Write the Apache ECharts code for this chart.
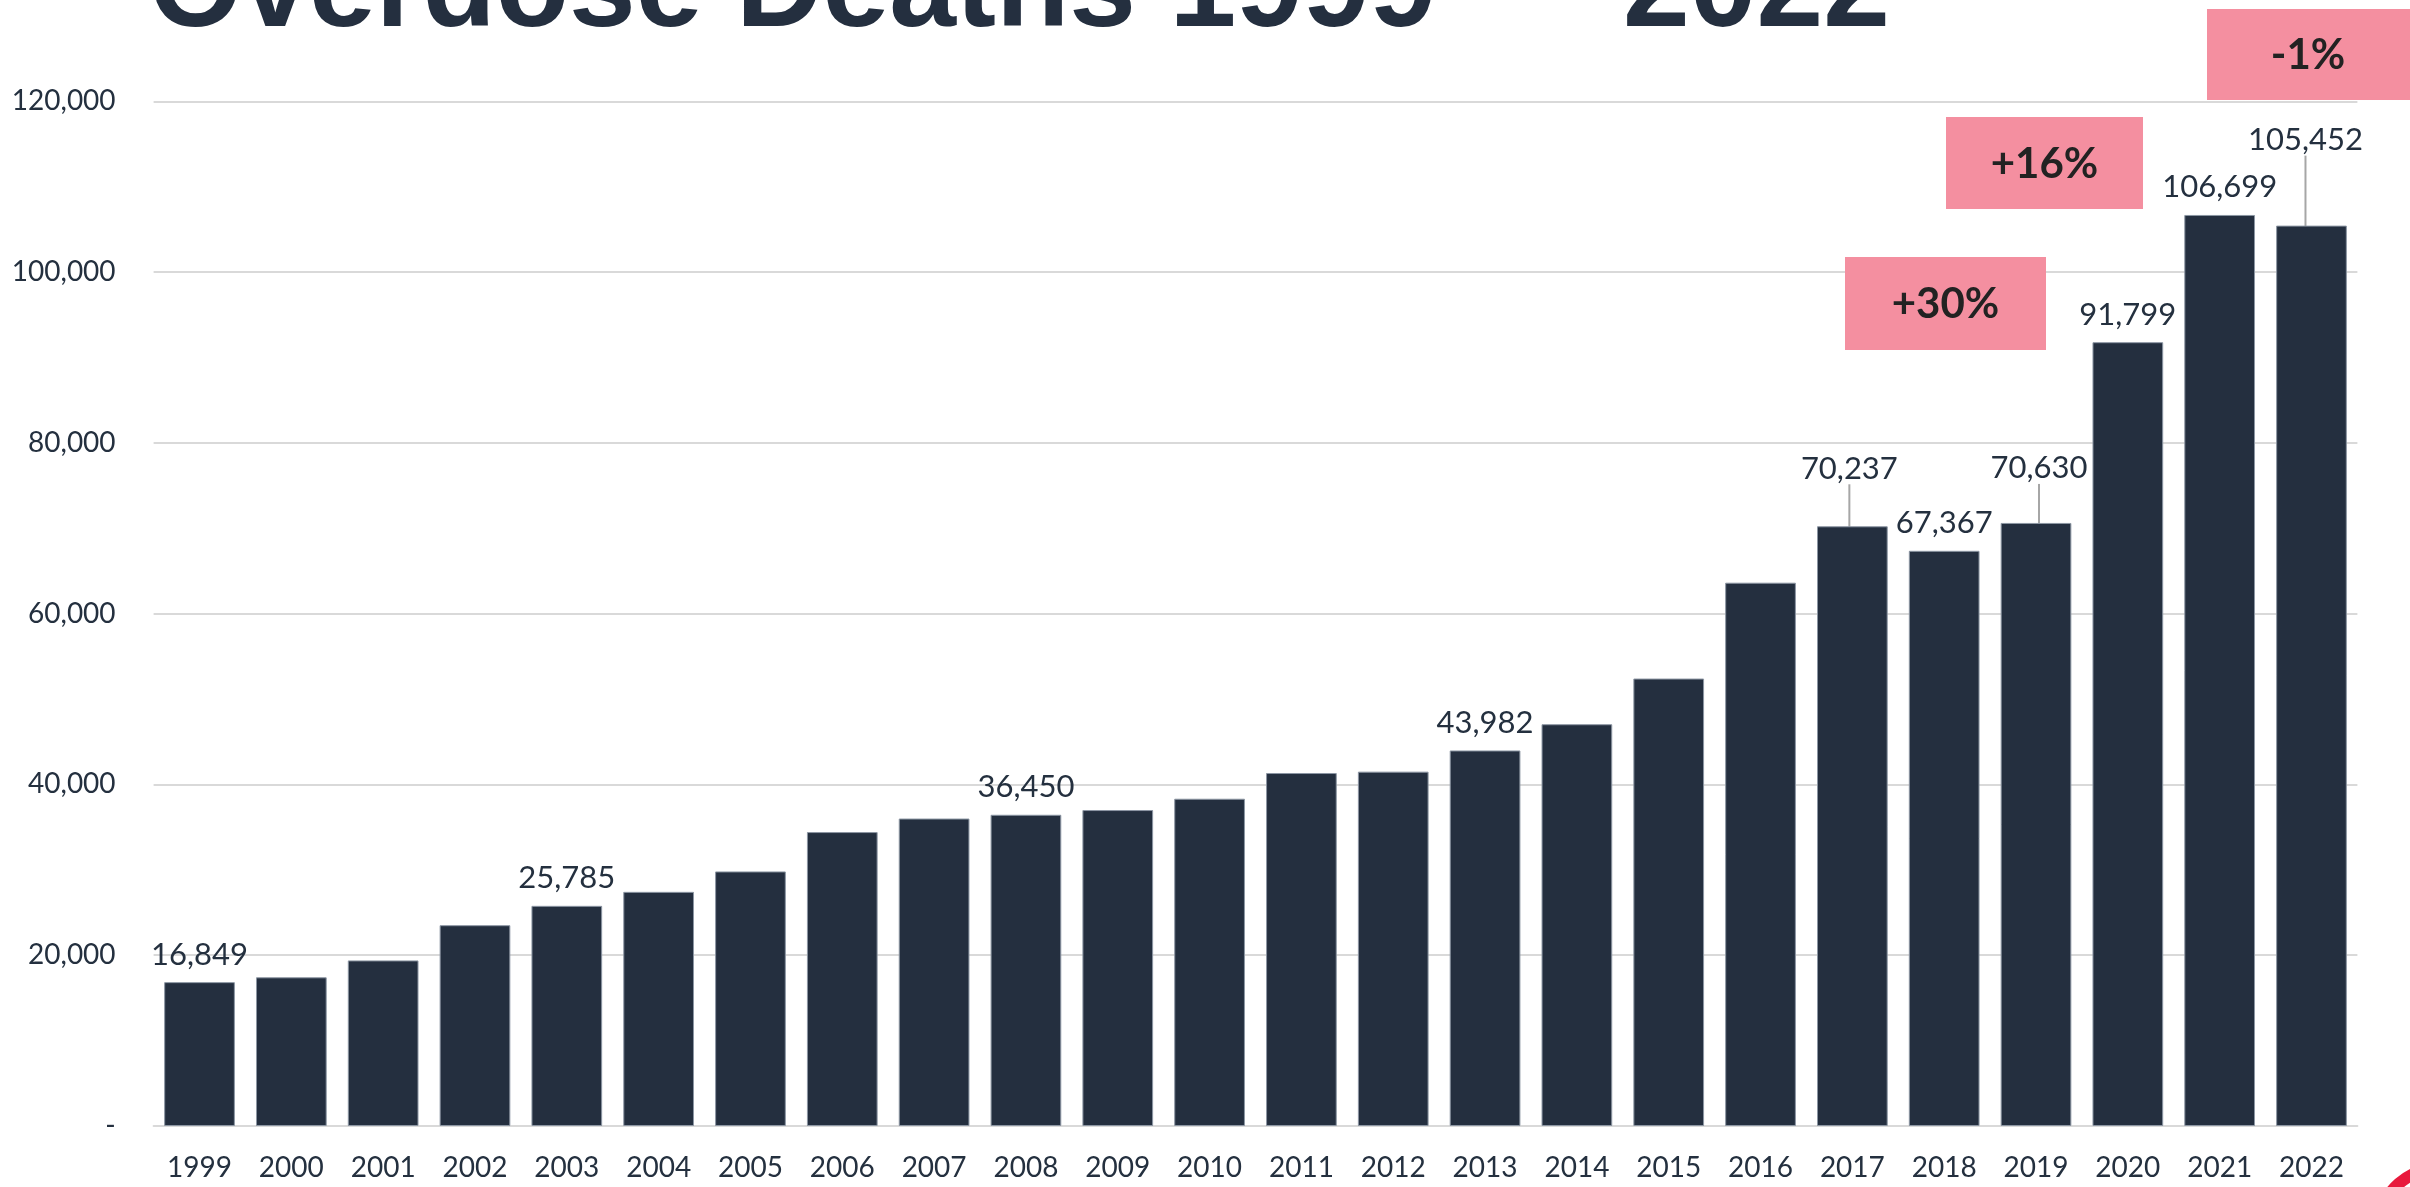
<!DOCTYPE html>
<html>
<head>
<meta charset="utf-8">
<script src="https://cdn.jsdelivr.net/npm/echarts@6/dist/echarts.min.js"></script>
<style>
html,body{margin:0;padding:0;background:#fff;}
#chart{width:2410px;height:1187px;}
</style>
</head>
<body>
<div id="chart"></div>
<script>
const titleText = 'Overdose Deaths 1999 \u2014 2022';
const years = ['1999','2000','2001','2002','2003','2004','2005','2006','2007','2008','2009','2010','2011','2012','2013','2014','2015','2016','2017','2018','2019','2020','2021','2022'];
const deaths = [16849,17415,19394,23518,25785,27424,29813,34425,36010,36450,37004,38329,41340,41502,43982,47055,52404,63632,70237,67367,70630,91799,106699,105452];
const labeledYears = ['1999','2003','2008','2013','2017','2018','2019','2020','2021','2022'];
const yTicks = [0,20000,40000,60000,80000,100000,120000];
const changeLabels = ['+30%','+16%','-1%'];

const DARK = '#242F3F';
const TEXT = '#24303F';
const PINK = '#F48FA0';
const FONT = 'Lato, "Open Sans", sans-serif';

// label nudges for the leader-lined labels
const labelNudge = {
  '2017': {dx: -3, dy: -30},
  '2019': {dx: 3, dy: -27},
  '2022': {dx: -6, dy: -58}
};

const seriesData = deaths.map((v, i) => {
  const y = years[i];
  const show = labeledYears.includes(y);
  return {value: v, label: {show: show}, labelLine: {show: !!labelNudge[y]}};
});

const chart = echarts.init(document.getElementById('chart'), null, {renderer: 'canvas'});

const boxes = [
  {x: 1845, y: 257, w: 201, h: 93},
  {x: 1946, y: 117, w: 197, h: 92},
  {x: 2207, y: 9, w: 210, h: 91}
];
const graphics = [];
graphics.push({
  type: 'text', left: 149, top: -67, z: 10,
  style: {text: titleText, fill: DARK, font: 'bold 120px "Liberation Sans", Arial, sans-serif'}
});
boxes.forEach((b, i) => {
  graphics.push({
    type: 'rect', shape: {x: b.x, y: b.y, width: b.w, height: b.h}, z: 5,
    style: {fill: PINK}
  });
  graphics.push({
    type: 'text', x: b.x + b.w / 2 - (i === 2 ? 4 : 0), y: b.y + b.h / 2 + 1, z: 6,
    style: {text: changeLabels[i], fill: '#222', font: 'bold 42px ' + FONT, align: 'center', verticalAlign: 'middle'}
  });
});
graphics.push({
  type: 'arc', z: 5,
  shape: {cx: 2440, cy: 1230, r: 62, startAngle: Math.PI * 1.12, endAngle: Math.PI * 1.42},
  style: {stroke: '#E8193C', lineWidth: 12, fill: null}
});

chart.setOption({
  animation: false,
  backgroundColor: '#fff',
  grid: {left: 153.6, right: 52.6, top: 101.4, bottom: 61},
  xAxis: {
    type: 'category', data: years,
    axisLine: {show: true, lineStyle: {color: '#D9D9D9', width: 2}},
    axisTick: {show: false},
    axisLabel: {color: TEXT, fontFamily: FONT, fontSize: 28, margin: 28}
  },
  yAxis: {
    type: 'value', min: 0, max: 120000, interval: 20000,
    axisLine: {show: false}, axisTick: {show: false},
    splitLine: {lineStyle: {color: '#D9D9D9', width: 2}},
    axisLabel: {
      color: TEXT, fontFamily: FONT, fontSize: 28, margin: 38,
      formatter: v => v === 0 ? '-' : v.toLocaleString('en-US')
    }
  },
  series: [{
    type: 'bar',
    data: seriesData,
    barCategoryGap: '23%',
    itemStyle: {color: DARK, borderColor: '#8C96A3', borderWidth: 1},
    label: {
      position: 'top', distance: 12, color: TEXT, fontFamily: FONT, fontSize: 31,
      formatter: p => p.value.toLocaleString('en-US')
    },
    labelLine: {show: false, lineStyle: {color: '#A6A6A6', width: 2}},
    labelLayout: function (params) {
      const y = years[params.dataIndex];
      const n = labelNudge[y];
      if (!n) return {};
      return {dx: n.dx, dy: n.dy};
    }
  }],
  graphic: graphics
});
</script>
</body>
</html>
